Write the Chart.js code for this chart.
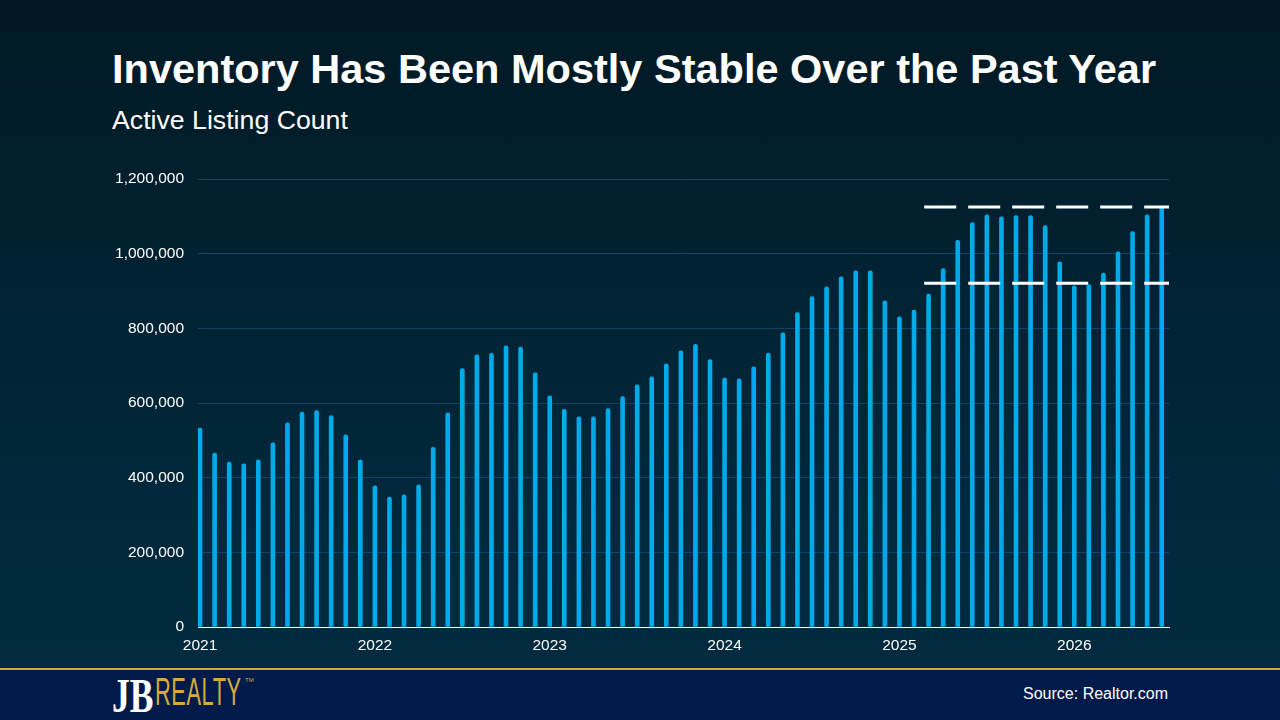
<!DOCTYPE html>
<html>
<head>
<meta charset="utf-8">
<script src="https://cdn.jsdelivr.net/npm/chart.js@4/dist/chart.umd.min.js"></script>
<style>
  html, body { margin: 0; padding: 0; }
  body {
    width: 1280px; height: 720px; overflow: hidden; position: relative;
    font-family: "Liberation Sans", Arial, sans-serif;
    background: linear-gradient(180deg, #011924 0%, #012435 45%, #022c42 100%);
  }
  #title { position: absolute; left: 112px; top: 48px; font-size: 41.5px; line-height: 41.5px; font-weight: bold; color: #fff; white-space: nowrap; }
  #subtitle { position: absolute; left: 112px; top: 107px; font-size: 26.7px; line-height: 26.7px; color: #fff; white-space: nowrap; }
  #chartBox { position: absolute; left: 0; top: 0; width: 1280px; height: 668px; }
  #goldLine { position: absolute; left: 0; top: 668px; width: 1280px; height: 2px; background: #d6ab3c; }
  #footer { position: absolute; left: 0; top: 670px; width: 1280px; height: 50px; background: #001a4a; }
  #source { position: absolute; right: 112px; top: 686px; font-size: 16px; line-height: 16px; color: #fff; white-space: nowrap; }
  #logoJB { position: absolute; left: 112px; top: 672px; font-family: "Liberation Serif", serif; font-weight: bold; font-size: 48px; line-height: 48px; color: #fff; transform: scaleX(0.74); transform-origin: left top; }
  #logoRealty { position: absolute; left: 155px; top: 672px; font-size: 39px; line-height: 39px; color: #d6ab3c; transform: scaleX(0.56); transform-origin: left top; letter-spacing: 1px; }
  #logoTm { position: absolute; left: 245px; top: 677px; font-size: 6px; color: #d6ab3c; }
</style>
</head>
<body>
<div id="title">Inventory Has Been Mostly Stable Over the Past Year</div>
<div id="subtitle">Active Listing Count</div>
<div id="chartBox"><canvas id="inventoryChart"></canvas></div>
<div id="goldLine"></div>
<div id="footer"></div>
<div id="logoJB">JB</div>
<div id="logoRealty">REALTY</div>
<div id="logoTm">TM</div>
<div id="source">Source: Realtor.com</div>

<script>
// monthly active listings, Jan 2021 onwards
const listings = [
  533000, 466000, 442000, 437000, 448000, 493000, 547000, 576000, 580000, 566000, 515000, 448000,
  378000, 348000, 354000, 381000, 481000, 574000, 692000, 729000, 733000, 753000, 750000, 681000,
  619000, 583000, 563000, 563000, 585000, 617000, 649000, 670000, 705000, 740000, 757000, 716000,
  667000, 665000, 697000, 734000, 788000, 842000, 885000, 911000, 938000, 954000, 954000, 874000,
  831000, 849000, 892000, 960000, 1036000, 1083000, 1104000, 1099000, 1102000, 1102000, 1075000, 978000,
  914000, 917000, 948000, 1005000, 1059000, 1104000, 1125000
];
const yearLabels = ['2021', '2022', '2023', '2024', '2025', '2026'];
const yTicks = [0, 200000, 400000, 600000, 800000, 1000000, 1200000];

// dashed range markers (upper and lower band), x in month index
const bandStart = 49.7;
const bandEnd = 66.5;
const bandHigh = 1125000;
const bandLow = 921000;

const barPoints = listings.map((v, i) => ({ x: i, y: v }));

function bandLine(level) {
  return {
    type: 'line',
    data: [{ x: bandStart, y: level }, { x: bandEnd, y: level }],
    borderColor: '#ffffff',
    borderWidth: 3,
    borderDash: [32, 12],
    pointRadius: 0,
    fill: false,
    order: 0
  };
}

const ctx = document.getElementById('inventoryChart').getContext('2d');
new Chart(ctx, {
  type: 'bar',
  data: {
    datasets: [
      {
        label: 'Active Listing Count',
        data: barPoints,
        backgroundColor: '#00a9e8',
        barThickness: 4,
        borderRadius: 2,
        order: 1
      },
      bandLine(bandHigh),
      bandLine(bandLow)
    ]
  },
  options: {
    responsive: true,
    maintainAspectRatio: false,
    animation: false,
    layout: { padding: { left: 100, right: 111, top: 179, bottom: 0 } },
    plugins: {
      legend: { display: false },
      tooltip: { enabled: false }
    },
    scales: {
      x: {
        type: 'linear',
        offset: false,
        min: -0.14,
        max: 66.5,
        grid: { display: false, drawTicks: false, offset: false },
        border: { display: true, color: '#ffffff', width: 1 },
        afterBuildTicks: scale => {
          scale.ticks = yearLabels.map((_, i) => ({ value: i * 12 }));
        },
        afterFit: scale => { scale.height = 41; },
        ticks: {
          autoSkip: false,
          maxRotation: 0,
          padding: 9,
          color: '#ffffff',
          font: { family: 'Liberation Sans', size: 15.5 },
          callback: value => yearLabels[Math.round(value / 12)]
        }
      },
      y: {
        min: 0,
        max: 1200000,
        grid: { color: '#0d4468', lineWidth: 1, drawTicks: false },
        border: { display: false },
        afterBuildTicks: scale => {
          scale.ticks = yTicks.map(v => ({ value: v }));
        },
        afterFit: scale => { scale.width = 98; },
        ticks: {
          padding: 14,
          color: '#ffffff',
          font: { family: 'Liberation Sans', size: 15.5 },
          callback: value => value.toLocaleString('en-US')
        }
      }
    }
  }
});
</script>
</body>
</html>
